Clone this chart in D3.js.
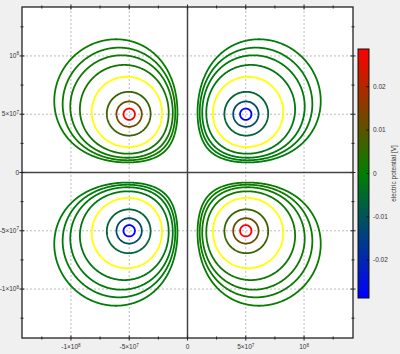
<!DOCTYPE html>
<html lang="en">
  <head>
    <meta charset="utf-8">
    <title>Quadrupole potential</title>
    <style>
      body { margin: 0; background: #f0f0f0; }
      svg { display: block; font-family: "Liberation Sans", Arial, sans-serif; }
    </style>
    <script src="https://d3js.org/d3.v7.min.js"></script>
  </head>
  <body>
    <script>
    // point charges: x [m], y [m], charge [C]
    const chargeX = [-5e7, 5e7, -5e7, 5e7]
    const chargeY = [5e7, 5e7, -5e7, -5e7]
    const chargeQ = [1.66e-5, -1.66e-5, -1.66e-5, 1.66e-5]

    // contour levels (absolute value, drawn for + and -)
    const levels = [0.0287, 0.0118, 0.006, 0.003, 0.00198, 0.00148, 0.0012, 0.00097]
    const yellowLevel = 0.003

    const xTicks = [-1e8, -5e7, 0, 5e7, 1e8]
    const xTickLabels = [["-1×10", "8"], ["-5×10", "7"], ["0", ""], ["5×10", "7"], ["10", "8"]]
    const yTicks = [-1e8, -5e7, 0, 5e7, 1e8]
    const yTickLabels = [["-1×10", "8"], ["-5×10", "7"], ["0", ""], ["5×10", "7"], ["10", "8"]]
    const minorTicks = [-1.25e8, -7.5e7, -2.5e7, 2.5e7, 7.5e7, 1.25e8]

    const cbTicks = [-0.02, -0.01, 0, 0.01, 0.02]
    const cbLabels = ["-0.02", "-0.01", "0", "0.01", "0.02"]
    const vRange = [-0.0287, 0.0287]
    const extent = [-1.42e8, 1.42e8]

    const W = 400, H = 354
    const plot = { left: 22, top: 7, right: 353, bottom: 338 }

    const svg = d3.select("body").append("svg")
      .attr("width", W).attr("height", H)

    const x = d3.scaleLinear().domain(extent).range([plot.left, plot.right])
    const y = d3.scaleLinear().domain(extent).range([plot.bottom, plot.top])
    const color = d3.scaleLinear()
      .domain([vRange[0], 0, vRange[1]])
      .range(["#0000ff", "#008000", "#ff0000"])

    svg.append("rect")
      .attr("x", plot.left).attr("y", plot.top)
      .attr("width", plot.right - plot.left).attr("height", plot.bottom - plot.top)
      .attr("fill", "white")

    // grid
    const grid = svg.append("g")
    xTicks.filter(d => d != 0).forEach(d => {
      grid.append("line")
        .attr("x1", x(d)).attr("x2", x(d)).attr("y1", plot.top).attr("y2", plot.bottom)
        .attr("stroke", "#aaa").attr("stroke-dasharray", "2,2").attr("stroke-width", 0.8)
    })
    yTicks.filter(d => d != 0).forEach(d => {
      grid.append("line")
        .attr("y1", y(d)).attr("y2", y(d)).attr("x1", plot.left).attr("x2", plot.right)
        .attr("stroke", "#aaa").attr("stroke-dasharray", "2,2").attr("stroke-width", 0.8)
    })
    grid.append("line")
      .attr("x1", x(0)).attr("x2", x(0)).attr("y1", plot.top).attr("y2", plot.bottom)
      .attr("stroke", "#444").attr("stroke-width", 1.5)
    grid.append("line")
      .attr("y1", y(0)).attr("y2", y(0)).attr("x1", plot.left).attr("x2", plot.right)
      .attr("stroke", "#444").attr("stroke-width", 1.5)

    // potential field on a grid
    const k = 8.9875e9
    const n = 500
    const span = extent[1] - extent[0]
    const values = new Float64Array(n * n)
    for (let j = 0; j < n; j++) {
      const py = extent[1] - (j + 0.5) * span / n
      for (let i = 0; i < n; i++) {
        const px = extent[0] + (i + 0.5) * span / n
        let v = 0
        for (let c = 0; c < chargeQ.length; c++) {
          const r = Math.hypot(px - chargeX[c], py - chargeY[c])
          v += k * chargeQ[c] / Math.max(r, 1e5)
        }
        values[j * n + i] = v
      }
    }
    const negValues = values.map(v => -v)

    const proj = d3.geoTransform({
      point: function(cx, cy) {
        this.stream.point(x(extent[0] + cx / n * span), y(extent[1] - cy / n * span))
      }
    })
    const path = d3.geoPath(proj)
    const contours = d3.contours().size([n, n])

    const cg = svg.append("g")
    levels.slice().reverse().forEach(lv => {
      const stroke = lv == yellowLevel ? "#ffff00" : null
      cg.append("path")
        .datum(contours.contour(values, lv))
        .attr("d", path)
        .attr("fill", "none")
        .attr("stroke", stroke || color(lv))
        .attr("stroke-width", 1.8)
      cg.append("path")
        .datum(contours.contour(negValues, lv))
        .attr("d", path)
        .attr("fill", "none")
        .attr("stroke", stroke || color(-lv))
        .attr("stroke-width", 1.8)
    })

    // frame and ticks
    svg.append("rect")
      .attr("x", plot.left).attr("y", plot.top)
      .attr("width", plot.right - plot.left).attr("height", plot.bottom - plot.top)
      .attr("fill", "none").attr("stroke", "#222").attr("stroke-width", 1.3)

    const ticks = svg.append("g").attr("stroke", "#222").attr("stroke-width", 1)
    const tickSet = xTicks.map(d => [d, 2.5]).concat(minorTicks.map(d => [d, 1.5]))
    tickSet.forEach(([d, len]) => {
      ticks.append("line").attr("x1", x(d)).attr("x2", x(d))
        .attr("y1", plot.bottom - len).attr("y2", plot.bottom + len)
      ticks.append("line").attr("x1", x(d)).attr("x2", x(d))
        .attr("y1", plot.top - len).attr("y2", plot.top + len)
      ticks.append("line").attr("y1", y(d)).attr("y2", y(d))
        .attr("x1", plot.left - len).attr("x2", plot.left + len)
      ticks.append("line").attr("y1", y(d)).attr("y2", y(d))
        .attr("x1", plot.right - len).attr("x2", plot.right + len)
    })

    const addLabel = (g, parts) => {
      g.append("tspan").text(parts[0])
      if (parts[1]) g.append("tspan").attr("dy", -2.5).attr("font-size", 4.5).text(parts[1])
    }
    xTicks.forEach((d, i) => {
      const t = svg.append("text")
        .attr("x", x(d)).attr("y", plot.bottom + 11)
        .attr("text-anchor", "middle").attr("font-size", 6.5).attr("fill", "#333")
      addLabel(t, xTickLabels[i])
    })
    yTicks.forEach((d, i) => {
      const t = svg.append("text")
        .attr("x", plot.left - 3).attr("y", y(d) + 2)
        .attr("text-anchor", "end").attr("font-size", 6.5).attr("fill", "#333")
      addLabel(t, yTickLabels[i])
    })

    // colorbar
    const cb = { x: 358, w: 11, top: 49, bottom: 298 }
    const cy = d3.scaleLinear().domain(vRange).range([cb.bottom, cb.top])
    const grad = svg.append("defs").append("linearGradient")
      .attr("id", "cbgrad").attr("x1", 0).attr("x2", 0).attr("y1", 1).attr("y2", 0)
    grad.selectAll("stop")
      .data([vRange[0], 0, vRange[1]])
      .join("stop")
      .attr("offset", d => (d - vRange[0]) / (vRange[1] - vRange[0]))
      .attr("stop-color", d => color(d))
    svg.append("rect")
      .attr("x", cb.x).attr("y", cb.top).attr("width", cb.w).attr("height", cb.bottom - cb.top)
      .attr("fill", "url(#cbgrad)").attr("stroke", "#111").attr("stroke-width", 1)
    cbTicks.forEach((d, i) => {
      svg.append("line")
        .attr("x1", cb.x + cb.w - 2.5).attr("x2", cb.x + cb.w)
        .attr("y1", cy(d)).attr("y2", cy(d))
        .attr("stroke", "#111").attr("stroke-width", 1)
      svg.append("text")
        .attr("x", cb.x + cb.w + 4).attr("y", cy(d) + 2)
        .attr("font-size", 6.5).attr("fill", "#333")
        .text(cbLabels[i])
    })
    svg.append("text")
      .attr("transform", `translate(396,${(cb.top + cb.bottom) / 2}) rotate(-90)`)
      .attr("text-anchor", "middle").attr("font-size", 6.5).attr("fill", "#333")
      .text("electric potential [V]")
    </script>
  </body>
</html>
